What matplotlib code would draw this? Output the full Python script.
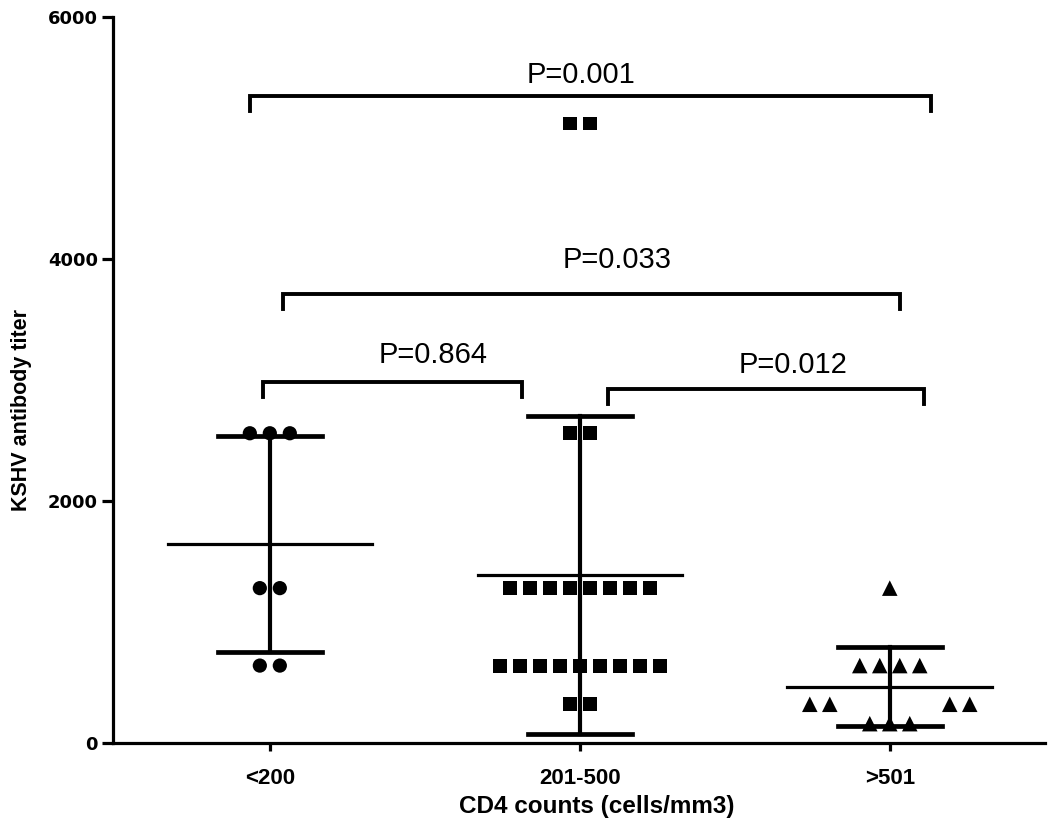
import numpy as np
import matplotlib
matplotlib.use('Agg')
import matplotlib.pyplot as plt

plt.rcParams['font.family'] = ['Liberation Sans', 'DejaVu Sans']

# antibody titers (values, counts) per CD4 group
groups = ['<200', '201-500', '>501']
titers_lt200 = [2560, 1280, 640]
counts_lt200 = [3, 2, 2]
titers_mid = [5120, 2560, 1280, 640, 320]
counts_mid = [2, 2, 8, 9, 2]
titers_gt501 = [1280, 640, 320, 160]
counts_gt501 = [1, 4, 4, 3]
markers = ['o', 's', '^']

pvals = ['P=0.001', 'P=0.033', 'P=0.864', 'P=0.012']

# bracket geometry (x0, x1, y, tick depth) and label position (x, y)
brackets = [(-0.065, 2.132, 5347, 125),
            (0.042, 2.032, 3711, 125),
            (-0.023, 0.813, 2983, 125),
            (1.090, 2.110, 2925, 125)]
label_pos = [(1.003, 5521), (1.119, 3992), (0.526, 3207), (1.687, 3124)]

step = 0.0645


def row_offsets(n, gap=0):
    off = (np.arange(n) - (n - 1) / 2) * step
    if gap:
        off = off + np.sign(off) * gap
    return off


fig = plt.figure(figsize=(10.5, 8.3), dpi=100)
ax = fig.add_axes([0.1076, 0.1048, 0.8874, 0.8747])

data = [(titers_lt200, counts_lt200), (titers_mid, counts_mid), (titers_gt501, counts_gt501)]
sizes = [105, 100, 125]
for i, (tv, cv) in enumerate(data):
    allv = []
    for v, c in zip(tv, cv):
        gap = 2.5 * step if (i == 2 and v == 320) else 0
        xs = i + row_offsets(c, gap)
        ax.scatter(xs, [v] * c, marker=markers[i], s=sizes[i],
                   color='black', edgecolors='none', zorder=3)
        allv += [v] * c
    allv = np.array(allv, dtype=float)
    m = allv.mean()
    sd = allv.std(ddof=1)
    ax.plot([i - 0.33, i + 0.33], [m, m], color='black', lw=2.3, zorder=2)
    ax.plot([i, i], [m - sd, m + sd], color='black', lw=3, zorder=2)
    for yy in (m - sd, m + sd):
        ax.plot([i - 0.167, i + 0.167], [yy, yy], color='black', lw=3.4, zorder=2)

for (x0, x1, y, d), (tx, ty), lab in zip(brackets, label_pos, pvals):
    ax.plot([x0, x0, x1, x1], [y - d, y, y, y - d], color='black', lw=2.8,
            solid_joinstyle='miter', clip_on=False)
    ax.text(tx, ty, lab, ha='center', va='center', fontsize=21)

ax.set_xlim(-0.506, 2.5)
ax.set_ylim(0, 6000)
ax.set_yticks([0, 2000, 4000, 6000])
ax.set_yticklabels(['0', '2000', '4000', '6000'], fontsize=13, fontweight='bold',
                   family=['DejaVu Sans'])
ax.set_xticks([0, 1, 2])
ax.set_xticklabels(groups, fontsize=16, fontweight='bold')
ax.tick_params(axis='y', length=8, width=2.3, pad=3)
ax.tick_params(axis='x', length=6, width=2.3, pad=12)
for s in ['top', 'right']:
    ax.spines[s].set_visible(False)
for s in ['left', 'bottom']:
    ax.spines[s].set_linewidth(2.3)

ax.set_xlabel('CD4 counts (cells/mm3)', fontsize=17.5, fontweight='bold')
ax.xaxis.set_label_coords(0.519, -0.072)
ax.set_ylabel('KSHV antibody titer', fontsize=15.5, fontweight='bold')
ax.yaxis.set_label_coords(-0.087, 0.459)

fig.savefig('out.png', dpi=100)
